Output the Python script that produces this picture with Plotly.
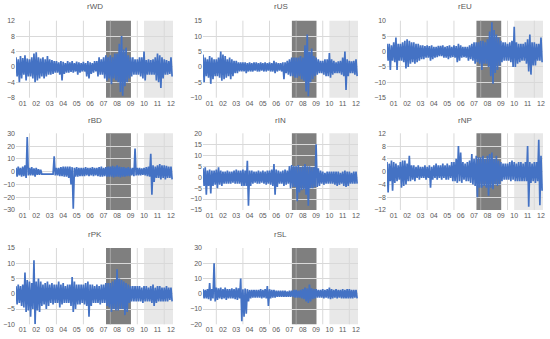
import numpy as np
import plotly.graph_objects as go

# ---------------- data (2-month envelopes of daily returns) ----------------
names = ["rWD", "rUS", "rEU", "rBD", "rIN", "rNP", "rPK", "rSL"]
year_labels = ["01", "02", "03", "04", "05", "06", "07", "08", "09", "10", "11", "12"]
crisis_period = (2007.68, 2009.53)
recent_period = (2010.5, 2012.65)
grid_years = [2002, 2004, 2006, 2008, 2010, 2012]

rWD_hi = [2.5, 2.0, 2.8, 2.3, 3.0, 2.2,  2.0, 2.5, 3.5, 3.8, 2.5, 2.2,  2.5, 2.0, 2.8, 2.0, 1.8, 1.5,
          1.5, 1.2, 1.5, 1.3, 1.0, 1.5,  1.2, 1.5, 1.0, 1.4, 1.2, 1.0,  1.3, 1.0, 1.5, 1.2, 1.0, 1.5,
          1.5, 2.5, 2.0, 2.5, 3.0, 2.5,  3.0, 2.5, 3.5, 3.5, 6.0, 8.0,  4.5, 5.0, 3.0, 2.5, 2.5, 2.0,
          2.0, 2.5, 2.5, 4.0, 1.8, 2.0,  1.8, 2.0, 2.5, 3.5, 3.0, 2.5,  2.0, 1.8, 1.5, 2.5]
rWD_lo = [-2.5, -4.0, -3.0, -2.0, -3.5, -2.5,  -2.5, -3.0, -4.0, -3.5, -3.0, -2.5,  -3.0, -2.5, -2.0, -2.0, -1.8, -1.5,
          -1.5, -2.0, -3.5, -1.8, -1.5, -1.5,  -1.3, -1.5, -1.2, -2.0, -1.5, -1.2,  -1.2, -2.5, -3.0, -1.8, -1.5, -1.2,
          -2.5, -2.0, -2.0, -3.0, -3.5, -3.0,  -4.5, -3.0, -3.5, -4.0, -6.5, -7.5,  -5.0, -4.0, -3.0, -2.5, -2.0, -2.0,
          -2.0, -2.5, -3.0, -3.5, -2.0, -2.0,  -2.0, -2.0, -3.5, -4.0, -5.5, -3.0,  -2.0, -2.0, -1.8, -2.5]

rUS_hi = [4.0, 3.0, 2.5, 3.5, 3.0, 2.5,  2.5, 3.0, 5.0, 4.0, 3.5, 2.5,  3.0, 2.5, 2.0, 2.0, 1.5, 1.5,
          1.5, 1.5, 1.2, 1.5, 1.2, 1.5,  1.5, 1.2, 1.5, 1.2, 1.5, 1.2,  1.5, 1.2, 2.0, 1.5, 1.2, 1.2,
          1.5, 1.5, 2.0, 2.5, 3.0, 3.0,  3.0, 3.0, 3.5, 3.0, 7.0, 10.5,  5.0, 6.0, 3.5, 3.0, 2.5, 2.0,
          2.0, 2.5, 2.5, 4.5, 2.5, 2.0,  1.5, 1.8, 2.0, 3.0, 5.0, 2.5,  2.0, 1.8, 2.0, 2.5]
rUS_lo = [-5.0, -3.0, -3.5, -5.5, -4.0, -3.0,  -3.0, -3.5, -4.5, -4.0, -3.5, -3.0,  -4.0, -3.0, -2.0, -2.0, -1.5, -1.5,
          -1.5, -2.0, -1.5, -1.5, -1.5, -1.2,  -1.5, -1.5, -1.2, -1.5, -1.5, -1.2,  -1.5, -1.5, -2.0, -1.5, -1.2, -1.5,
          -4.0, -2.0, -2.5, -3.0, -3.0, -3.5,  -3.5, -3.0, -4.0, -4.5, -8.0, -9.5,  -5.0, -4.0, -3.0, -2.5, -2.0, -2.0,
          -2.5, -3.0, -3.0, -3.5, -2.5, -2.0,  -2.0, -2.0, -2.5, -3.0, -7.5, -3.0,  -2.0, -2.0, -2.5, -3.0]

rEU_hi = [2.5, 2.5, 2.0, 3.0, 4.5, 2.5,  2.5, 3.0, 3.5, 4.0, 3.5, 3.0,  3.0, 2.5, 2.5, 2.0, 2.0, 1.8,
          2.0, 1.8, 2.0, 1.5, 1.5, 1.8,  1.8, 2.0, 1.5, 1.8, 2.0, 1.5,  2.0, 1.8, 2.5, 2.0, 1.5, 1.5,
          1.5, 2.0, 2.5, 3.0, 3.0, 3.0,  3.5, 3.5, 3.0, 4.0, 6.5, 9.5,  7.0, 5.5, 4.5, 3.5, 3.0, 3.0,
          2.5, 3.0, 3.5, 8.0, 3.0, 2.5,  2.5, 2.5, 3.0, 4.0, 5.5, 3.0,  3.0, 2.5, 2.5, 4.5]
rEU_lo = [-3.0, -6.0, -3.0, -3.5, -6.0, -3.0,  -3.0, -3.5, -5.5, -5.0, -4.0, -3.5,  -4.0, -3.5, -3.0, -2.5, -2.5, -2.0,
          -2.0, -3.0, -2.5, -2.0, -1.8, -1.5,  -1.5, -2.0, -2.0, -2.5, -2.0, -1.8,  -2.0, -3.5, -3.0, -2.0, -1.8, -2.0,
          -3.0, -2.5, -3.0, -4.0, -3.5, -4.0,  -6.0, -4.0, -4.0, -5.0, -8.0, -10.5,  -7.0, -6.0, -4.5, -3.5, -3.0, -3.0,
          -3.0, -3.5, -5.0, -5.0, -4.0, -3.5,  -3.0, -3.0, -4.0, -6.5, -7.5, -4.5,  -4.5, -3.0, -3.0, -3.5]

rBD_hi = [3.0, 4.0, 3.0, 4.0, 5.0, 27.0,  3.0, 3.5, 2.5, 3.0, 2.0, 1.5,  -2.0, -2.0, -2.0, -2.0, -2.0, 12.0,
          3.0, 3.0, 3.5, 4.0, 4.0, 4.0,  4.0, 3.5, 3.0, 3.5, 3.0, 3.0,  3.0, 3.5, 3.0, 3.0, 3.5, 3.0,
          3.0, 3.5, 4.0, 3.0, 3.5, 4.0,  4.0, 4.5, 4.0, 5.0, 4.0, 3.5,  3.5, 3.0, 3.5, 3.0, 3.0, 18.0,
          3.0, 3.0, 2.5, 3.0, 3.5, 4.0,  14.0, 5.0, 4.0, 5.0, 6.0, 5.0,  5.0, 4.5, 4.0, 4.0]
rBD_lo = [-4.0, -3.0, -4.0, -3.5, -5.0, -3.0,  -3.0, -3.0, -4.0, -2.5, -2.5, -2.0,  -2.0, -2.0, -2.0, -2.0, -2.0, -3.0,
          -3.0, -3.5, -3.5, -4.0, -4.0, -5.0,  -10.0, -29.0, -4.0, -4.0, -3.5, -3.5,  -3.5, -3.0, -3.5, -3.0, -3.5, -3.0,
          -3.5, -4.0, -4.0, -3.5, -4.0, -4.0,  -4.0, -4.5, -4.0, -4.0, -4.5, -4.0,  -4.0, -3.5, -3.5, -3.0, -3.5, -3.0,
          -3.0, -3.0, -2.5, -3.0, -3.5, -4.0,  -18.0, -8.0, -5.0, -5.0, -6.0, -5.0,  -6.0, -5.0, -5.0, -6.0]

rIN_hi = [4.0, 4.5, 3.0, 3.5, 3.0, 3.0,  3.5, 4.5, 3.0, 2.5, 2.5, 3.0,  2.5, 2.5, 3.0, 3.5, 3.0, 3.0,
          3.5, 3.0, 7.5, 3.0, 3.0, 2.5,  2.5, 3.0, 2.5, 3.0, 2.5, 3.0,  3.0, 3.5, 6.0, 3.5, 3.0, 2.5,
          3.0, 3.5, 3.0, 5.0, 5.5, 5.0,  5.0, 5.5, 4.5, 5.0, 6.0, 5.0,  5.0, 4.5, 4.5, 15.0, 4.0, 3.0,
          2.5, 2.0, 2.5, 2.5, 2.5, 2.5,  2.5, 2.5, 2.0, 2.5, 3.0, 2.5,  2.5, 2.0, 2.5, 2.5]
rIN_lo = [-4.0, -8.0, -4.0, -7.5, -4.0, -3.5,  -5.0, -3.5, -4.0, -3.0, -3.0, -3.0,  -3.0, -2.5, -3.0, -3.0, -3.0, -4.0,
          -4.0, -4.0, -13.0, -4.0, -3.0, -2.5,  -3.0, -3.0, -2.5, -3.0, -3.5, -3.0,  -3.5, -4.0, -8.0, -4.5, -3.0, -3.0,
          -4.0, -3.5, -3.0, -5.0, -4.5, -4.5,  -11.0, -7.0, -6.0, -5.5, -8.0, -13.0,  -5.0, -5.0, -4.5, -4.5, -4.0, -3.0,
          -3.5, -3.0, -3.0, -3.0, -3.0, -3.5,  -4.0, -3.5, -3.0, -4.0, -4.5, -4.0,  -3.0, -3.0, -3.0, -3.0]

rNP_hi = [3.0, 2.5, 3.5, 3.0, 2.5, 2.0,  3.0, 3.5, 3.5, 2.5, 5.0, 2.0,  2.0, 1.5, 2.0, 1.5, 1.5, 2.0,
          1.5, 2.0, 1.5, 2.0, 2.5, 2.0,  2.0, 2.5, 2.0, 2.5, 2.0, 3.0,  3.0, 4.0, 8.0, 6.0, 3.0, 2.5,
          3.0, 3.5, 5.5, 4.0, 5.0, 4.5,  4.5, 5.0, 4.0, 5.0, 5.5, 6.0,  4.0, 5.0, 3.5, 3.0, 2.5, 2.5,
          2.5, 3.0, 3.5, 3.0, 2.5, 3.0,  3.0, 2.5, 3.0, 8.0, 3.0, 2.5,  3.0, 3.0, 10.0, 5.0]
rNP_lo = [-6.5, -3.0, -6.0, -3.5, -3.0, -2.5,  -5.0, -4.5, -4.0, -3.0, -3.0, -2.5,  -3.0, -2.0, -2.5, -2.0, -2.0, -2.5,
          -2.0, -5.0, -2.5, -2.0, -2.5, -2.0,  -2.5, -2.0, -2.5, -2.5, -2.0, -3.0,  -3.0, -3.5, -3.0, -3.5, -2.5, -3.0,
          -3.0, -3.5, -4.0, -4.5, -8.0, -5.0,  -5.0, -4.5, -5.0, -7.5, -5.0, -5.5,  -4.0, -4.5, -4.0, -3.0, -2.5, -2.5,
          -2.5, -3.0, -2.5, -3.0, -3.0, -3.0,  -3.0, -3.0, -3.0, -11.0, -3.5, -3.0,  -3.5, -3.0, -10.5, -6.0]

rPK_hi = [2.5, 3.0, 2.5, 3.0, 7.0, 4.5,  4.0, 3.5, 11.0, 4.0, 5.0, 4.0,  3.0, 3.5, 4.0, 3.0, 3.5, 3.0,
          3.0, 4.0, 3.0, 3.5, 2.5, 3.0,  3.0, 5.5, 4.0, 3.0, 3.0, 3.0,  3.0, 3.5, 4.0, 3.0, 3.0, 2.5,
          3.0, 2.5, 3.0, 3.0, 3.5, 3.5,  3.5, 4.0, 4.5, 8.0, 5.0, 4.5,  4.0, 3.5, 3.0, 2.5, 2.5, 2.5,
          2.5, 2.5, 2.0, 2.5, 2.5, 2.0,  2.5, 3.0, 2.0, 2.5, 2.5, 2.0,  2.0, 2.5, 2.0, 2.0]
rPK_lo = [-3.5, -3.0, -4.0, -4.5, -6.0, -5.5,  -7.5, -5.0, -10.0, -5.5, -6.0, -4.0,  -3.5, -5.0, -4.0, -3.0, -3.5, -3.0,
          -3.0, -4.5, -3.5, -3.0, -3.0, -3.0,  -4.0, -6.0, -5.0, -3.5, -3.5, -3.0,  -3.5, -4.0, -7.5, -4.0, -3.0, -3.0,
          -3.0, -3.5, -3.0, -3.0, -4.0, -4.5,  -6.0, -5.0, -5.5, -5.5, -5.0, -5.0,  -7.0, -6.0, -3.0, -2.5, -2.5, -2.5,
          -2.5, -2.5, -3.0, -2.5, -2.5, -2.5,  -3.0, -4.0, -3.0, -2.5, -2.5, -2.5,  -2.5, -2.5, -2.0, -2.5]

rSL_hi = [3.0, 2.5, 3.0, 7.0, 3.0, 20.0,  4.0, 3.5, 4.0, 3.0, 4.0, 3.0,  3.0, 3.5, 3.0, 4.0, 3.5, 10.0,
          3.0, 3.5, 3.0, 2.5, 2.5, 2.5,  2.5, 2.5, 3.0, 2.5, 3.0, 5.0,  3.0, 2.5, 2.5, 2.0, 2.0, 2.0,
          2.0, 2.0, 1.5, 2.0, 2.0, 2.5,  2.5, 2.0, 2.5, 3.0, 4.0, 3.5,  6.0, 3.5, 3.0, 3.0, 2.5, 2.5,
          3.0, 2.5, 3.0, 4.0, 3.0, 2.5,  3.0, 2.5, 2.5, 3.0, 2.5, 3.0,  3.0, 2.5, 2.5, 2.5]
rSL_lo = [-3.0, -3.0, -3.5, -4.5, -3.0, -5.0,  -4.0, -3.0, -3.5, -3.0, -4.0, -3.0,  -3.0, -3.0, -3.5, -4.0, -3.0, -18.0,
          -15.0, -13.0, -5.0, -3.0, -2.5, -2.5,  -2.5, -2.5, -3.0, -2.5, -3.0, -8.0,  -3.0, -2.5, -2.5, -2.0, -2.0, -2.0,
          -2.0, -2.0, -2.0, -2.0, -2.0, -2.5,  -2.5, -2.5, -3.0, -3.5, -5.0, -6.0,  -5.0, -3.5, -3.0, -2.5, -2.5, -2.5,
          -3.0, -2.5, -3.0, -3.5, -3.0, -2.5,  -3.0, -2.5, -3.0, -3.0, -3.0, -3.0,  -3.0, -3.0, -2.5, -3.0]

series_hi = [rWD_hi, rUS_hi, rEU_hi, rBD_hi, rIN_hi, rNP_hi, rPK_hi, rSL_hi]
series_lo = [rWD_lo, rUS_lo, rEU_lo, rBD_lo, rIN_lo, rNP_lo, rPK_lo, rSL_lo]

y_ranges = [(-8, 12), (-10, 15), (-15, 10), (-30, 30), (-15, 20), (-12, 12), (-10, 15), (-20, 30)]
y_steps = [4, 5, 5, 10, 5, 4, 5, 10]

# ---------------- layout geometry ----------------
W, H = 550, 339
col_px = [(16, 173), (203, 358), (387, 543)]
row_px = [(20.7, 97.7), (133.3, 210.0), (248.0, 324.3)]
title_px = [7, 120.5, 234]
x_range = [2001.0, 2012.65]

period = 1 / 6.0
n = len(rWD_hi)
t_hi = 2001.0 + np.arange(n) * period
t_lo = t_hi + period / 2

BLUE = "#4472C4"
GRID = "#d9d9d9"
TXT = "#595959"
FONT = "Liberation Sans"

fig = go.Figure()
layout = dict(width=W, height=H, margin=dict(l=0, r=0, t=0, b=0, autoexpand=False),
              paper_bgcolor="white", plot_bgcolor="white", showlegend=False)
shapes, annotations = [], []

for k, name in enumerate(names):
    r, c = divmod(k, 3)
    xa = "x" if k == 0 else f"x{k+1}"
    ya = "y" if k == 0 else f"y{k+1}"
    xs, ys = [], []
    for i in range(n):
        xs += [t_hi[i], t_lo[i]]
        ys += [series_hi[k][i], series_lo[k][i]]
    fig.add_trace(go.Scatter(x=xs, y=ys, mode="lines", xaxis=xa, yaxis=ya,
                             line=dict(color=BLUE, width=1.7), hoverinfo="skip"))
    x0, x1 = col_px[c]
    y0, y1 = row_px[r]
    lo, hi = y_ranges[k]
    layout["xaxis" if k == 0 else f"xaxis{k+1}"] = dict(
        domain=[x0 / W, x1 / W], anchor=ya, range=x_range, automargin=False,
        tickvals=[2001.5 + j for j in range(12)], ticktext=year_labels,
        showgrid=False, zeroline=False, showline=False, ticks="",
        tickfont=dict(family=FONT, size=7, color=TXT),
    )
    layout["yaxis" if k == 0 else f"yaxis{k+1}"] = dict(
        domain=[1 - y1 / H, 1 - y0 / H], anchor=xa, range=[lo, hi], automargin=False,
        tick0=lo, dtick=y_steps[k], showgrid=True, gridcolor=GRID, gridwidth=1,
        zeroline=False, showline=False, ticks="",
        tickfont=dict(family=FONT, size=7, color=TXT),
    )
    shapes.append(dict(type="rect", xref=xa, yref=f"{ya} domain", x0=crisis_period[0], x1=crisis_period[1],
                       y0=0, y1=1, fillcolor="#7f7f7f", line=dict(width=0), layer="below"))
    shapes.append(dict(type="rect", xref=xa, yref=f"{ya} domain", x0=recent_period[0], x1=recent_period[1],
                       y0=0, y1=1, fillcolor="#e8e8e8", line=dict(width=0), layer="below"))
    for g in grid_years:
        col = "#a6a6a6" if crisis_period[0] < g < crisis_period[1] else GRID
        shapes.append(dict(type="line", xref=xa, yref=f"{ya} domain", x0=g, x1=g, y0=0, y1=1,
                           line=dict(color=col, width=1), layer="below"))
    annotations.append(dict(text=name, xref="paper", yref="paper", x=(x0 + x1) / 2 / W,
                            y=1 - title_px[r] / H, showarrow=False, xanchor="center", yanchor="middle",
                            font=dict(family=FONT, size=8, color=TXT)))

layout["shapes"] = shapes
layout["annotations"] = annotations
fig.update_layout(**layout)
fig.write_html("out.html", config={"displayModeBar": False, "staticPlot": True},
               post_script="document.body.style.margin='0';document.body.style.padding='0';"
                           "document.documentElement.style.overflow='hidden';")
